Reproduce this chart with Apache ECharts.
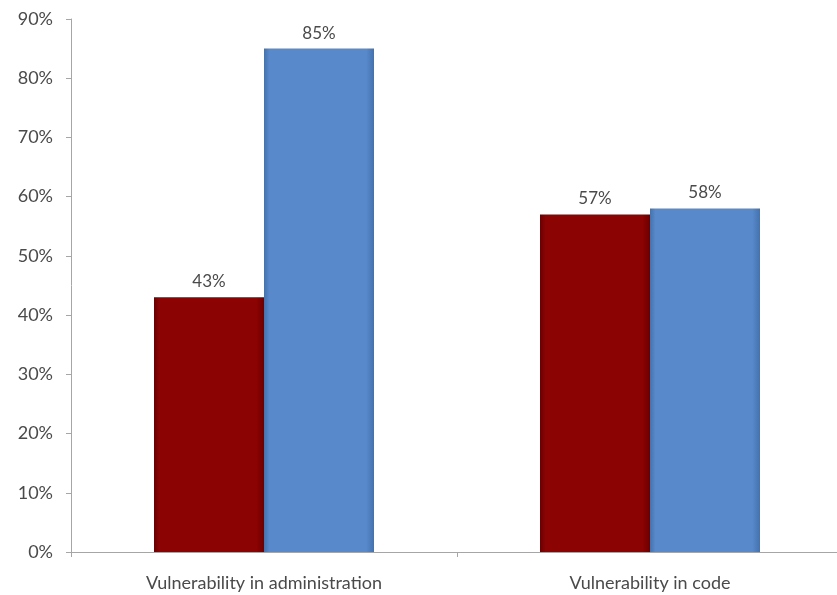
<!DOCTYPE html>
<html>
<head>
<meta charset="utf-8">
<script src="https://cdn.jsdelivr.net/npm/echarts@6/dist/echarts.min.js"></script>
<style>
  html, body { margin: 0; padding: 0; background: #fff; overflow: hidden; }
  /* plot area runs a few pixels past the right edge, as in the original */
  #chart { width: 843px; height: 595px; }
</style>
</head>
<body>
<div id="chart"></div>
<script>
// data
const categories = ["Vulnerability in administration", "Vulnerability in code"];
const redValues = [43, 57];
const blueValues = [85, 58];
const yTicks = [0, 10, 20, 30, 40, 50, 60, 70, 80, 90];

const font = "Lato, 'Open Sans', sans-serif";

// flat fill with a slightly darker edge on both sides
function barGradient(edge, fill) {
  return new echarts.graphic.LinearGradient(0, 0, 1, 0, [
    { offset: 0, color: edge },
    { offset: 0.05, color: fill },
    { offset: 0.93, color: fill },
    { offset: 1, color: edge }
  ]);
}

const label = {
  show: true,
  position: "top",
  distance: 7,
  formatter: "{c}%",
  fontSize: 17,
  fontFamily: font,
  color: "#4a4a4a"
};

const chart = echarts.init(document.getElementById("chart"));
chart.setOption({
  animation: false,
  grid: { left: 71, right: 0, top: 19, bottom: 43 },
  xAxis: {
    type: "category",
    data: categories,
    axisLine: { lineStyle: { color: "#a6a6a6", width: 1 } },
    axisTick: { show: true, length: 5, lineStyle: { color: "#a6a6a6" } },
    axisLabel: { fontSize: 18, fontFamily: font, color: "#4a4a4a", margin: 22 }
  },
  yAxis: {
    type: "value",
    min: yTicks[0],
    max: yTicks[yTicks.length - 1],
    interval: 10,
    axisLine: { show: true, lineStyle: { color: "#a6a6a6", width: 1 } },
    axisTick: { show: true, length: 5, lineStyle: { color: "#a6a6a6" } },
    splitLine: { show: false },
    axisLabel: {
      fontSize: 18,
      fontFamily: font,
      color: "#4a4a4a",
      margin: 18,
      formatter: "{value}%"
    }
  },
  series: [
    {
      type: "bar",
      data: redValues,
      barWidth: 110,
      barGap: "0%",
      itemStyle: { color: barGradient("#6a0000", "#8c0303") },
      label
    },
    {
      type: "bar",
      data: blueValues,
      barWidth: 110,
      itemStyle: { color: barGradient("#4572ad", "#5889cb") },
      label
    }
  ]
});
</script>
</body>
</html>
